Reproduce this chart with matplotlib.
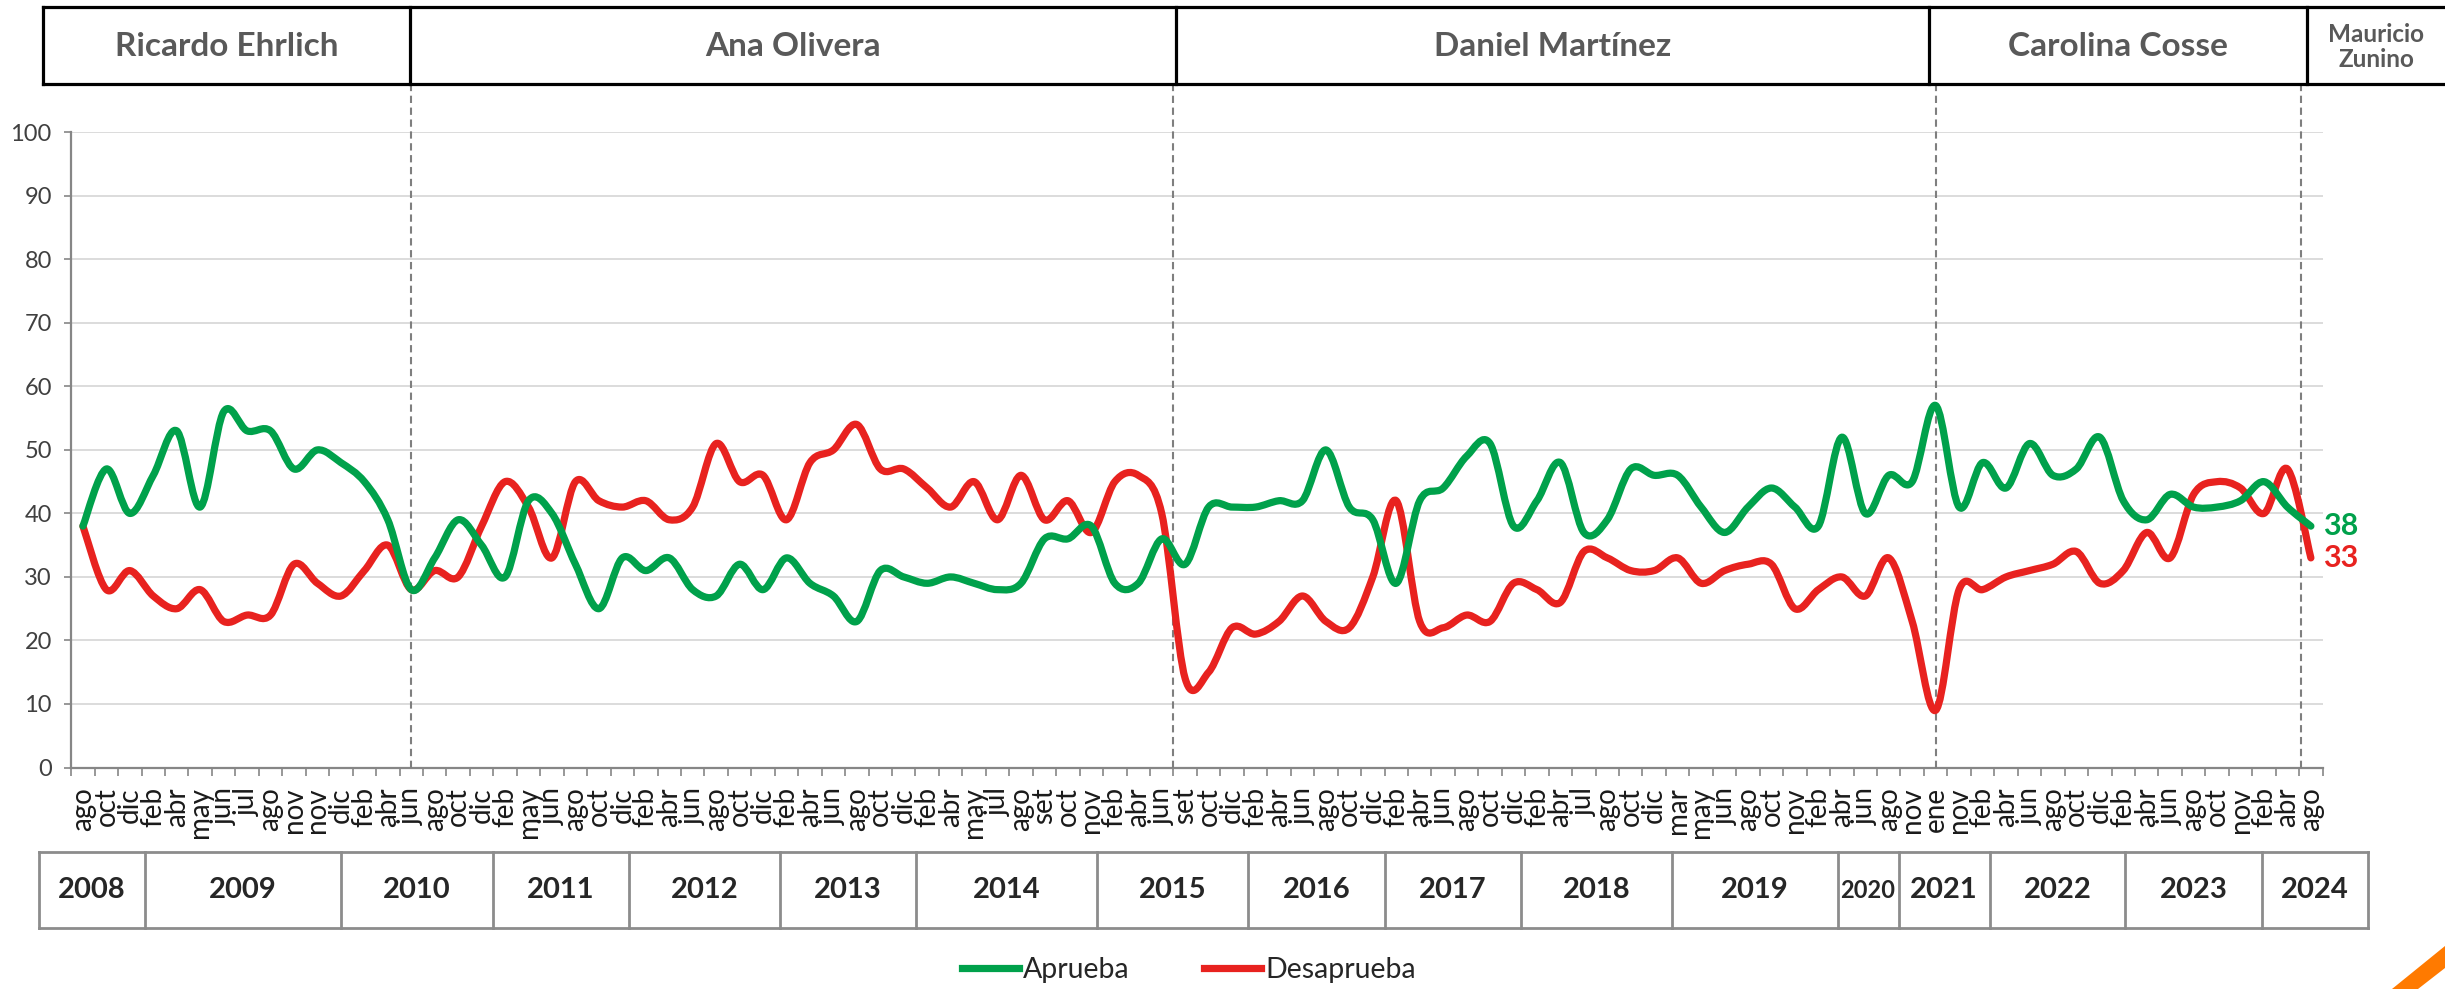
import numpy as np
import matplotlib
matplotlib.use("Agg")
import matplotlib.pyplot as plt
from matplotlib.path import Path
from matplotlib.patches import PathPatch, Polygon
from matplotlib.lines import Line2D

# ---------------- data ----------------
months = ["ago", "oct", "dic", "feb", "abr", "may", "jun", "jul", "ago", "nov", "nov", "dic",
          "feb", "abr", "jun", "ago", "oct", "dic",
          "feb", "may", "jun", "ago", "oct", "dic",
          "feb", "abr", "jun", "ago", "oct", "dic",
          "feb", "abr", "jun", "ago", "oct", "dic",
          "feb", "abr", "may", "jul", "ago", "set", "oct", "nov",
          "feb", "abr", "jun", "set", "oct", "dic",
          "feb", "abr", "jun", "ago", "oct", "dic",
          "feb", "abr", "jun", "ago", "oct", "dic",
          "feb", "abr", "jul", "ago", "oct", "dic",
          "mar", "may", "jun", "ago", "oct", "nov",
          "feb", "abr", "jun", "ago", "nov",
          "ene", "nov",
          "feb", "abr", "jun", "ago", "oct", "dic",
          "feb", "abr", "jun", "ago", "oct", "nov",
          "feb", "abr", "ago"]

aprueba = [38, 47, 40, 46, 53, 41, 56, 53, 53, 47, 50, 48,
           45, 39, 28, 33, 39, 35,
           30, 42, 40, 32, 25, 33,
           31, 33, 28, 27, 32, 28,
           33, 29, 27, 23, 31, 30,
           29, 30, 29, 28, 29, 36, 36, 38,
           29, 29, 36, 32, 41, 41,
           41, 42, 42, 50, 41, 39,
           29, 42, 44, 49, 51, 38,
           42, 48, 37, 39, 47, 46,
           46, 41, 37, 41, 44, 41,
           38, 52, 40, 46, 45,
           57, 41,
           48, 44, 51, 46, 47, 52,
           42, 39, 43, 41, 41, 42,
           45, 41, 38]

desaprueba = [38, 28, 31, 27, 25, 28, 23, 24, 24, 32, 29, 27,
              31, 35, 28, 31, 30, 38,
              45, 41, 33, 45, 42, 41,
              42, 39, 41, 51, 45, 46,
              39, 48, 50, 54, 47, 47,
              44, 41, 45, 39, 46, 39, 42, 37,
              45, 46, 40, 14, 15, 22,
              21, 23, 27, 23, 22, 30,
              42, 23, 22, 24, 23, 29,
              28, 26, 34, 33, 31, 31,
              33, 29, 31, 32, 32, 25,
              28, 30, 27, 33, 23,
              9, 28,
              28, 30, 31, 32, 34, 29,
              31, 37, 33, 43, 45, 44,
              40, 47, 33]

years = ["2008", "2009", "2010", "2011", "2012", "2013", "2014", "2015", "2016",
         "2017", "2018", "2019", "2020", "2021", "2022", "2023", "2024"]

intendentes = ["Ricardo Ehrlich", "Ana Olivera", "Daniel Martínez",
               "Carolina Cosse", "Mauricio\nZunino"]

series_names = ["Aprueba", "Desaprueba"]

# ---------------- layout / style ----------------
W, H = 2445, 989
GREEN = "#00A14B"
RED = "#E8221F"
FONT = "Lato"

def fx(px):
    return px / W

def fy(py):
    return 1 - py / H

plt.rcParams["font.family"] = [FONT, "DejaVu Sans"]

fig = plt.figure(figsize=(W / 100, H / 100), dpi=100)
ax_left, ax_right = 71.2, 2322.6
ax_top, ax_bot = 132.3, 767.5
ax = fig.add_axes([fx(ax_left), fy(ax_bot), fx(ax_right - ax_left), (ax_bot - ax_top) / H])

n = len(months)
xs = np.arange(n)


def smooth_path(x, y):
    """Excel-like smoothed line: cubic Bezier through every data point."""
    pts = np.column_stack([x, y]).astype(float)
    verts = [pts[0]]
    codes = [Path.MOVETO]
    m = len(pts)
    for i in range(m - 1):
        p0 = pts[i - 1] if i > 0 else pts[i]
        p1 = pts[i]
        p2 = pts[i + 1]
        p3 = pts[i + 2] if i + 2 < m else pts[i + 1]
        c1 = p1 + (p2 - p0) / 6.0
        c2 = p2 - (p3 - p1) / 6.0
        verts += [c1, c2, p2]
        codes += [Path.CURVE4] * 3
    return Path(verts, codes)


for vals, col, zo in [(desaprueba, RED, 4), (aprueba, GREEN, 5)]:
    patch = PathPatch(smooth_path(xs, vals), facecolor="none", edgecolor=col,
                      lw=5.2, capstyle="round", joinstyle="round", zorder=zo)
    ax.add_patch(patch)

ax.set_xlim(-0.5, n - 0.5)
ax.set_ylim(0, 100)

# grid & spines
ax.set_yticks(np.arange(0, 101, 10))
ax.yaxis.grid(True, color="#D9D9D9", lw=1.3, zorder=0)
ax.set_axisbelow(True)
for s in ["top", "right"]:
    ax.spines[s].set_visible(False)
for s in ["left", "bottom"]:
    ax.spines[s].set_color("#868686")
    ax.spines[s].set_linewidth(1.6)

ax.tick_params(axis="y", length=5, width=1.2, color="#868686", pad=9,
               labelsize=17, labelcolor="#404040")
ax.set_xticks(xs)
ax.set_xticklabels(months, rotation=90, fontsize=20, color="#1a1a1a")
ax.set_xticks(np.arange(-0.5, n, 1.0), minor=True)
ax.tick_params(axis="x", which="major", length=0, pad=14)
ax.tick_params(axis="x", which="minor", length=6, width=1.2, color="#868686")
for lbl in ax.get_xticklabels():
    lbl.set_verticalalignment("top")

# dashed separators between intendentes
sep_x = [14, 46.5, 79, 94.6]
ymax_sep = (ax_bot - 84) / (ax_bot - ax_top)
for sx in sep_x:
    ax.axvline(sx, ymin=0, ymax=ymax_sep, color="#7F7F7F", lw=1.5,
               ls=(0, (3.5, 2.2)), clip_on=False, zorder=3)

# end labels
ax.text(n - 1 + 0.5, aprueba[-1], str(aprueba[-1]), color=GREEN, fontsize=22,
        fontweight="bold", ha="left", va="center", clip_on=False)
ax.text(n - 1 + 0.5, desaprueba[-1], str(desaprueba[-1]), color=RED, fontsize=22,
        fontweight="bold", ha="left", va="center", clip_on=False)

# ---------------- header boxes (intendentes) ----------------
hdr_edges = [43.2, 410.2, 1175.7, 1928.6, 2306.5, 2445]
hdr_top, hdr_bot = 7.3, 84
hl = dict(color="black", lw=2.3, transform=fig.transFigure, solid_capstyle="projecting")
fig.add_artist(Line2D([fx(hdr_edges[0]), fx(W)], [fy(hdr_top)] * 2, **hl))
fig.add_artist(Line2D([fx(hdr_edges[0]), fx(W)], [fy(hdr_bot)] * 2, **hl))
for e in hdr_edges[:-1]:
    fig.add_artist(Line2D([fx(e)] * 2, [fy(hdr_top), fy(hdr_bot)], **hl))
for i, name in enumerate(intendentes):
    cx = (hdr_edges[i] + hdr_edges[i + 1]) / 2
    if i == len(intendentes) - 1:
        cx = 2376
        fs = 17.5
    else:
        fs = 24
    fig.text(fx(cx), fy((hdr_top + hdr_bot) / 2 + 1), name, ha="center", va="center",
             fontsize=fs, fontweight="bold", color="#595959", linespacing=1.1)

# ---------------- year table ----------------
yr_edges = [39.2, 144.9, 341, 492.7, 629.2, 780.3, 916.1, 1097.1, 1248.2, 1384.7,
            1520.7, 1671.7, 1837.6, 1898.5, 1989.5, 2125.3, 2261.6, 2368]
yr_top, yr_bot = 852, 928
tl = dict(color="#8C8C8C", lw=2.0, transform=fig.transFigure, solid_capstyle="projecting")
fig.add_artist(Line2D([fx(yr_edges[0]), fx(yr_edges[-1])], [fy(yr_top)] * 2, **tl))
fig.add_artist(Line2D([fx(yr_edges[0]), fx(yr_edges[-1])], [fy(yr_bot)] * 2, **tl))
for e in yr_edges:
    fig.add_artist(Line2D([fx(e)] * 2, [fy(yr_top), fy(yr_bot)], **tl))
for i, yv in enumerate(years):
    cx = (yr_edges[i] + yr_edges[i + 1]) / 2
    width = yr_edges[i + 1] - yr_edges[i]
    fs = 21 if width > 80 else 17
    fig.text(fx(cx), fy((yr_top + yr_bot) / 2), yv, ha="center", va="center",
             fontsize=fs, fontweight="bold", color="#262626")

# ---------------- legend ----------------
handles = [Line2D([], [], color=GREEN, lw=5.2), Line2D([], [], color=RED, lw=5.2)]
fig.legend(handles, series_names, loc="center", bbox_to_anchor=(fx(1189), fy(970)),
           ncol=2, frameon=False, fontsize=20.5, handlelength=2.0, handletextpad=0.15,
           columnspacing=2.6, labelcolor="#262626")

# decorative orange corner swoosh
fig.add_artist(Polygon([[fx(2392), fy(989)], [fx(2445), fy(946)], [fx(2445), fy(968)],
                        [fx(2418), fy(989)]], closed=True, transform=fig.transFigure,
                       facecolor="#FF7A00", edgecolor="none"))

fig.savefig("out.png", dpi=100)
